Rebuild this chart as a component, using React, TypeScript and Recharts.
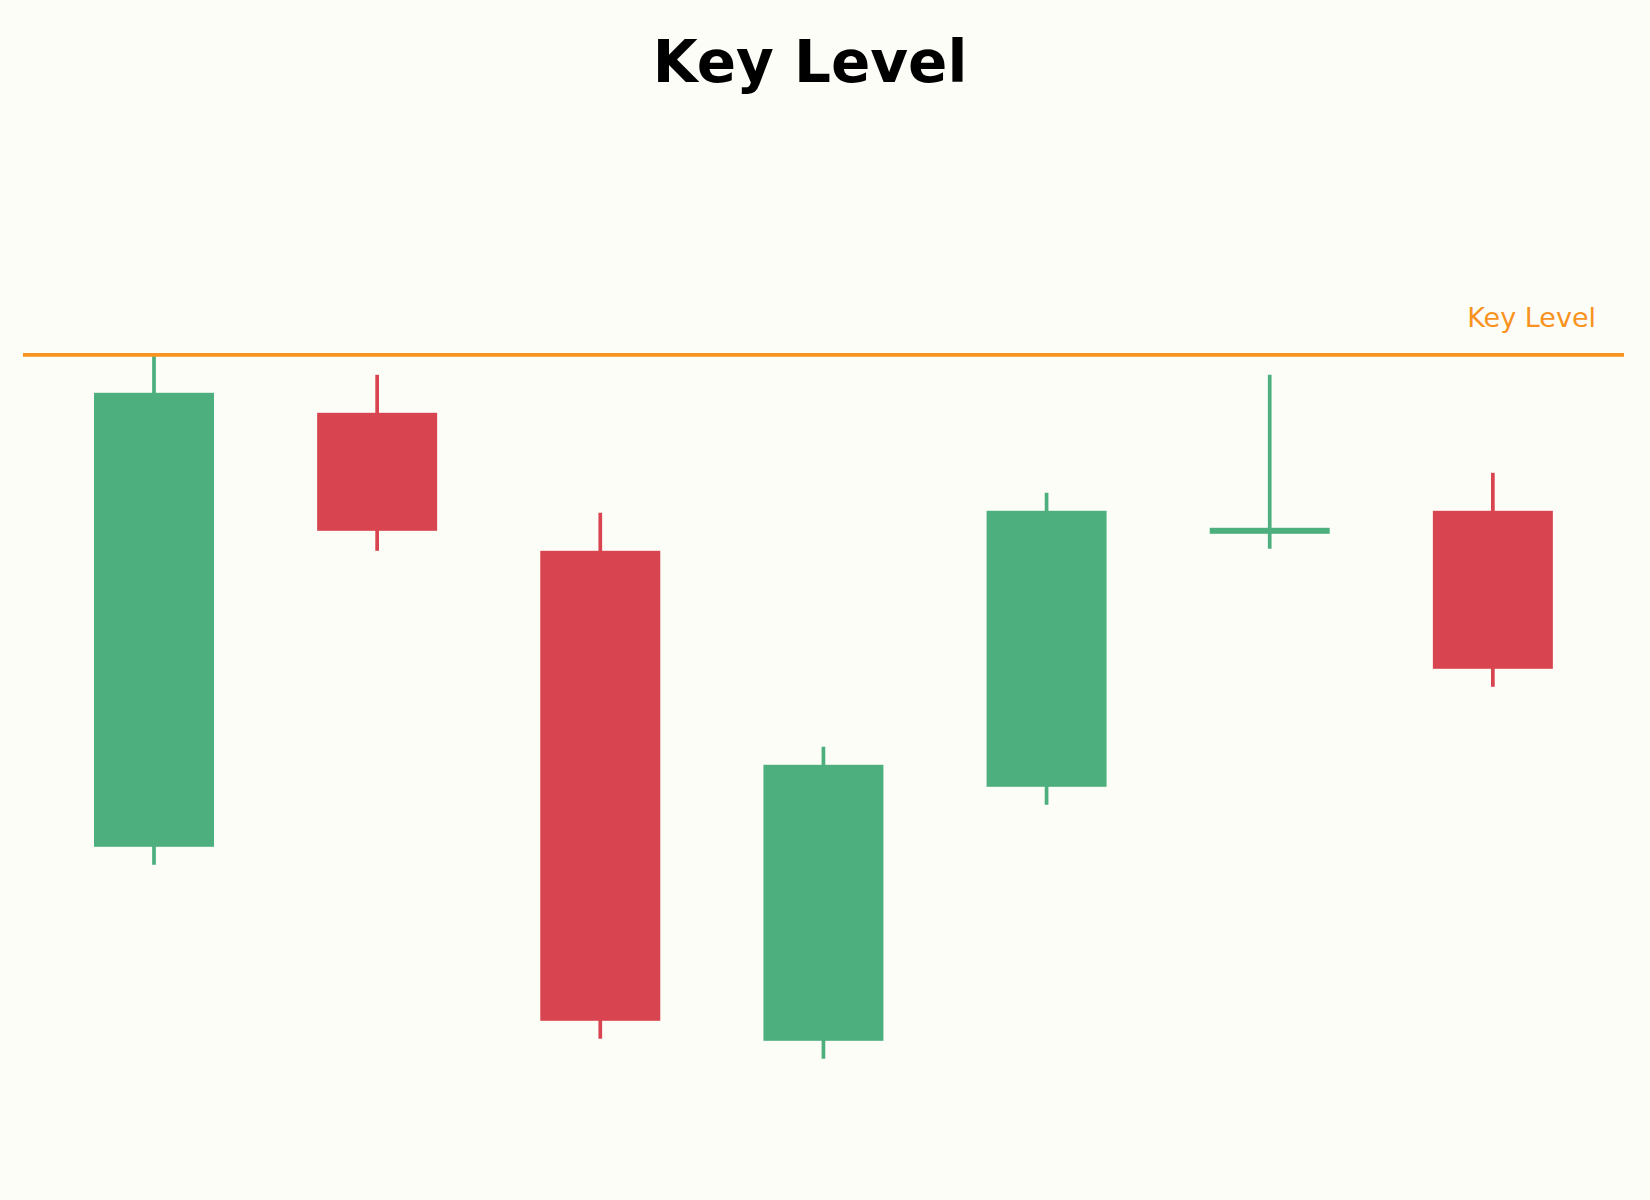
import { ComposedChart, Bar, XAxis, YAxis, ReferenceLine } from 'recharts'

const BG = '#fdfdf8'
const GREEN = '#4daf7e'
const RED = '#d84550'
const ORANGE = '#f7931e'

const DAYS = ['D1', 'D2', 'D3', 'D4', 'D5', 'D6', 'D7']
const OPEN = [75.4, 97.1, 90.2, 65.7, 78.4, 91.2, 92.2]
const HIGH = [100.0, 99.0, 92.1, 80.4, 93.1, 99.0, 94.1]
const LOW = [74.5, 90.2, 65.8, 64.8, 77.5, 90.3, 83.4]
const CLOSE = [98.1, 91.2, 66.7, 79.5, 92.2, 91.2, 84.3]
const KEY_LEVEL = 100

const data = DAYS.map((day, i) => ({
  day,
  open: OPEN[i],
  high: HIGH[i],
  low: LOW[i],
  close: CLOSE[i],
  range: [LOW[i], HIGH[i]],
}))

// one candle: wick from high to low, body from open to close (doji gets a thin bar)
function Candle(props: any) {
  const { x, y, width, height, payload } = props
  const { open, close, high, low } = payload
  const top = Math.min(y, y + height)
  const h = Math.abs(height)
  const ppu = h / (high - low)
  const yOf = (v: number) => top + (high - v) * ppu
  const color = close >= open ? GREEN : RED
  const bodyTop = yOf(Math.max(open, close))
  const bodyBottom = yOf(Math.min(open, close))
  const mid = (bodyTop + bodyBottom) / 2
  const bodyH = Math.max(bodyBottom - bodyTop, 6)
  const cx = x + width / 2
  return (
    <g>
      <line x1={cx} x2={cx} y1={top} y2={top + h} stroke={color} strokeWidth={3.7} />
      <rect x={x} y={mid - bodyH / 2} width={width} height={bodyH} fill={color} />
    </g>
  )
}

function KeyLabel(props: any) {
  const vb = props.viewBox || {}
  return (
    <text
      x={vb.x + vb.width - 28}
      y={vb.y - 28}
      textAnchor="end"
      fill={ORANGE}
      fontSize={27}
      fontFamily="DejaVu Sans"
    >
      Key Level
    </text>
  )
}

export default function App() {
  return (
    <div style={{ position: 'absolute', left: 0, top: 0, width: 1650, height: 1200, background: BG }}>
      <svg width={1650} height={120} style={{ position: 'absolute', left: 0, top: 0 }}>
        <text
          x={810}
          y={81.7}
          textAnchor="middle"
          fontSize={58}
          fontWeight="bold"
          fontFamily="DejaVu Sans"
          fill="#000"
        >
          Key Level
        </text>
      </svg>
      <div style={{ position: 'absolute', left: 0, top: 0 }}>
        <ComposedChart
          width={1650}
          height={1200}
          data={data}
          margin={{ top: 154.8, right: 26, bottom: 45.2, left: 23 }}
        >
          <XAxis dataKey="day" type="category" hide padding={{ left: 19, right: 20 }} />
          <YAxis hide domain={[60, 110]} type="number" allowDataOverflow />
          <Bar dataKey="range" barSize={120} shape={<Candle />} isAnimationActive={false} />
          <ReferenceLine y={KEY_LEVEL} stroke={ORANGE} strokeWidth={3.7} label={<KeyLabel />} />
        </ComposedChart>
      </div>
    </div>
  )
}
